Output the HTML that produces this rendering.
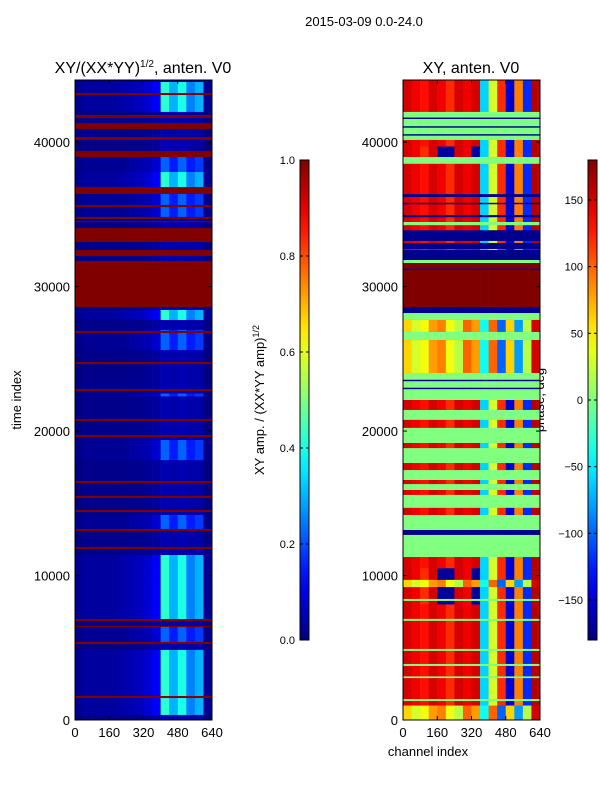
<!DOCTYPE html>
<html><head><meta charset="utf-8"><style>
body{margin:0;background:#fff;}
svg{display:block;font-family:"Liberation Sans",sans-serif;}
</style></head><body>
<svg id="fig" width="600" height="800" viewBox="0 0 600 800">
<text x="364" y="26" font-size="13" text-anchor="middle">2015-03-09 0.0-24.0</text>
<text x="143" y="73" font-size="16" text-anchor="middle">XY/(XX*YY)<tspan font-size="10" dy="-6">1/2</tspan><tspan dy="6">, anten. V0</tspan></text>
<text x="471" y="73" font-size="16" text-anchor="middle">XY, anten. V0</text>
<text transform="translate(21,400) rotate(-90)" font-size="13" text-anchor="middle">time index</text>
<text x="428" y="756" font-size="13" text-anchor="middle">channel index</text>
<text transform="translate(264,400) rotate(-90)" font-size="13" text-anchor="middle">XY amp. / (XX*YY amp)<tspan font-size="9" dy="-5">1/2</tspan></text>
<text transform="translate(544,400) rotate(-90)" font-size="13" text-anchor="middle">phase, deg</text>
<g id="left"></g>
<g id="right"></g>
<g id="cbs"></g>
<g id="axes"></g>
</svg>
<script>
const colEdges=[0,40,80,120,160,200,240,280,320,360,400,440,480,520,560,600,640];
const yTicks=[0,10000,20000,30000,40000];
const xTicks=[0,160,320,480,640];
const ampTicks=[0.0,0.2,0.4,0.6,0.8,1.0];
const phaseTicks=[-150,-100,-50,0,50,100,150];
// left amplitude profiles per column group
const ampBase=[.0,.01,.01,.01,.01,.01,.015,.015,.02,.03,.05,.04,.05,.04,.04,.0];
const ampBright=[.02,.03,.03,.03,.03,.04,.05,.06,.08,.12,.42,.3,.4,.25,.3,.02];
const ampMid=[.01,.02,.02,.02,.02,.02,.03,.04,.05,.08,.22,.15,.22,.15,.18,.01];
const ampRed=[1,1,1,1,1,1,1,1,1,1,1,1,1,1,1,1];
// right phase profiles
const phR=[150,140,130,150,140,120,150,140,150,-60,30,120,-150,90,-120,160];
const phG=[0,0,0,0,0,0,0,0,0,0,0,0,0,0,0,0];
const phB=[-175,-175,-175,-175,-175,-175,-175,-175,-175,-175,-175,-175,-175,-175,-175,-175];
const phD=[180,180,180,180,180,180,180,180,180,180,180,180,180,180,180,180];
const phY=[60,30,40,80,90,40,20,100,80,-40,100,-100,60,-80,20,150];
const phRB=[150,140,120,150,-170,-170,150,140,-170,-60,30,120,-150,90,-120,160];
// bands: start, end, kind
const leftStart=[0,42090,43260,41670,40910,40150,38970,38210,37930,36820,36410,34820,35510,34680,34470,33090,32120,28590,27690,25610,26790,24640,22770,22400,20700,19590,17990,16400,15370,14400,13150,13080,11840,10110,8930,8370,6920,6850,6370,5330,5260,4430,350,1520];
const leftEnd=[44300,44160,43400,41880,41320,40350,39390,38470,38970,37930,36890,36410,35650,34820,34530,34060,32530,31770,28380,27000,26930,24780,22910,22600,20840,19730,19380,16540,15510,14540,14190,13220,11980,10250,9070,8510,11420,6990,6510,6440,5400,4570,4850,1660];
const leftKind=['base','bright','red','red','red','red','red','red','mid','bright','red','mid','red','red','red','red','red','red','bright','mid','red','red','red','mid','red','red','mid','red','red','red','mid','red','red','red','red','red','bright','red','red','mid','red','red','bright','red'];
const rightStart=[0,40150,41600,41000,40450,38970,38500,36200,35700,34800,34250,31840,33020,32530,31560,28590,31150,28170,27690,26860,26300,24020,22150,23450,22900,21460,20770,20220,19170,18820,17780,17300,16610,16330,15920,15580,14680,14190,13150,12810,11280,8000,9200,8240,6860,4780,3740,2900,1310,0];
const rightEnd=[44300,42090,41700,41100,40550,39700,38970,36400,35800,34950,34470,33900,33160,32600,31840,31630,31250,28590,28170,27690,26860,26300,24020,23550,23000,22150,21460,20770,20220,19170,18820,17780,17300,16610,16330,15920,15580,14680,14190,13150,12810,10500,9700,8380,7000,4920,3880,3020,1450,1000];
const rightKind=['R','G','B','B','B','RB','G','B','B','B','G','B','R','R','G','D','B','B','G','Y','G','Y','G','B','B','R','G','R','G','R','G','R','G','R','G','R','G','R','G','B','G','RB','Y','G','G','G','G','G','G','Y'];

const ampProf={base:ampBase,bright:ampBright,mid:ampMid,red:ampRed};
const phProf={R:phR,G:phG,B:phB,D:phD,Y:phY,RB:phRB};
const NS='http://www.w3.org/2000/svg';
const Y0=720,Y1=80,TMAX=44300;
const yScale=t=>Y0-(t/TMAX)*(Y0-Y1);
function xScale(c,x0){return x0+c/640*137;}
function jet(v){v=Math.max(0,Math.min(1,v));
 const f=x=>Math.max(0,Math.min(1,x));
 const r=f(1.5-Math.abs(4*v-3)),g=f(1.5-Math.abs(4*v-2)),b=f(1.5-Math.abs(4*v-1));
 return `rgb(${Math.round(r*255)},${Math.round(g*255)},${Math.round(b*255)})`;}
function mk(tag,attrs,parent){const e=document.createElementNS(NS,tag);for(const k in attrs)e.setAttribute(k,attrs[k]);parent.appendChild(e);return e;}
function drawMap(gid,x0,starts,ends,kinds,prof,norm,name){
 const g=document.getElementById(gid);
 for(let i=0;i<starts.length;i++){
  const p=prof[kinds[i]];
  const ya=yScale(ends[i]),yb=yScale(starts[i]);
  for(let c=0;c<colEdges.length-1;c++){
   const xa=xScale(colEdges[c],x0),xb=xScale(colEdges[c+1],x0);
   const r=mk('rect',{x:xa,y:ya,width:xb-xa+0.3,height:Math.max(1,yb-ya),fill:jet(norm(p[c]))},g);
   
   
  }
 }
 const fr=mk('rect',{x:x0,y:Y1,width:137,height:Y0-Y1,fill:'none',stroke:'#000','stroke-width':1},g);
 
 
}
drawMap('left',75,leftStart,leftEnd,leftKind,ampProf,v=>v,'amp-cell');
drawMap('right',403,rightStart,rightEnd,rightKind,phProf,v=>(v+180)/360,'phase-cell');

const ax=document.getElementById('axes');
for(const x0 of [75,403]){
 for(const t of yTicks){const y=yScale(t);
  mk('line',{x1:x0,x2:x0+4,y1:y,y2:y,stroke:'#000'},ax);
  mk('line',{x1:x0+137,x2:x0+133,y1:y,y2:y,stroke:'#000'},ax);
  const tx=mk('text',{x:x0-5,y:y+5,'font-size':13,'text-anchor':'end'},ax);tx.textContent=t;
  
  
 }
 for(const c of xTicks){const x=xScale(c,x0);
  mk('line',{x1:x,x2:x,y1:Y0,y2:Y0-4,stroke:'#000'},ax);
  mk('line',{x1:x,x2:x,y1:Y1,y2:Y1+4,stroke:'#000'},ax);
  const tx=mk('text',{x:x,y:737,'font-size':13,'text-anchor':'middle'},ax);tx.textContent=c;
  
  
 }
}
// colorbars
const cbs=document.getElementById('cbs');
const defs=mk('defs',{},cbs);
const grad=mk('linearGradient',{id:'jetg',x1:0,y1:1,x2:0,y2:0},defs);
for(let i=0;i<=20;i++)mk('stop',{offset:i/20,'stop-color':jet(i/20)},grad);
function cbar(x,ticks,norm,fmt,name){
 const r=mk('rect',{x:x,y:160,width:9,height:480,fill:'url(#jetg)',stroke:'#000','stroke-width':1},cbs);
 
 
 for(const t of ticks){const y=640-norm(t)*480;
  mk('line',{x1:x,x2:x+3,y1:y,y2:y,stroke:'#000'},cbs);
  mk('line',{x1:x+9,x2:x+6,y1:y,y2:y,stroke:'#000'},cbs);
  const tx=mk('text',{x:x-5,y:y+4,'font-size':11,'text-anchor':'end'},cbs);tx.textContent=fmt(t);
  
  
 }
}
cbar(300,ampTicks,v=>v,v=>v.toFixed(1),'amp-colorbar');
cbar(588,phaseTicks,v=>(v+180)/360,v=>(v<0?'\u2212'+(-v):''+v),'phase-colorbar');
</script>
</body></html>
